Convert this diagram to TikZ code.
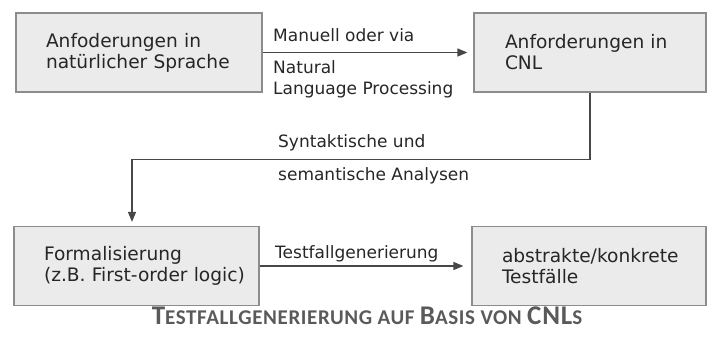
\documentclass[tikz,border=0pt]{standalone}
\usepackage{fontspec}
\setmainfont{DejaVu Sans}
\newfontfamily\capfont[LetterSpace=3]{Carlito}
\usetikzlibrary{arrows.meta}

\definecolor{boxfill}{HTML}{EBEBEB}
\definecolor{boxline}{HTML}{8C8C8C}
\definecolor{ink}{HTML}{262626}
\definecolor{capgray}{HTML}{5A5A5A}

% fake small caps for the caption
\newcommand{\bigc}[1]{{\fontsize{27}{30}\selectfont #1}}
\newcommand{\smc}[1]{{\fontsize{21}{30}\selectfont #1}}

\tikzset{
  stage/.style={draw=boxline, fill=boxfill, line width=1.2pt, text=ink,
    align=left, inner ysep=0pt, minimum height=79pt,
    font=\fontsize{18.6}{21}\selectfont},
  flow/.style={draw=ink!85, line width=1.3pt, shorten >=6pt,
    -{Triangle[length=10pt,width=8pt]}},
  lbl/.style={text=ink, anchor=base west, inner sep=0pt,
    font=\fontsize{17}{21}\selectfont}
}

\begin{document}
\begin{tikzpicture}[x=1pt, y=-1pt]
  \useasboundingbox (0,0) rectangle (707,343);

  % the four stages
  \node[stage, text width=186pt, inner xsep=30pt] (natreq) at (139,52.5)
    {Anfoderungen in\\natürlicher Sprache};
  \node[stage, text width=170pt, inner xsep=31pt] (cnlreq) at (590,52.5)
    {Anforderungen in\\CNL};
  \node[stage, text width=185pt, inner xsep=30pt] (formal) at (136.5,266)
    {Formalisierung\\\mbox{(z.B. First-order logic)}};
  \node[stage, text width=174pt, inner xsep=30pt] (tcases) at (589,266)
    {\mbox{abstrakte/konkrete}\\Testfälle};

  % connectors
  \draw[flow] (natreq) -- (cnlreq);
  \draw[flow, shorten >=4pt] (cnlreq.south) -- ++(0,67)
    -| ([xshift=-4.5pt]formal.north);
  \draw[flow, shorten >=8pt] (formal) -- (tcases);

  % labels
  \node[lbl] (manual) at (273,41) {Manuell oder via};
  \node[lbl] (nlp1) at (273,73) {Natural};
  \node[lbl] (nlp2) at (273,94) {Language Processing};
  \node[lbl] (ana1) at (278,147) {Syntaktische und};
  \node[lbl] (ana2) at (278,180) {semantische Analysen};
  \node[lbl] (gen) at (275,258) {Testfallgenerierung};

  % caption
  \node[anchor=base, inner sep=0pt, text=capgray, font=\capfont\bfseries]
    (caption) at (367,324)
    {\bigc{T}\smc{ESTFALLGENERIERUNG AUF }\bigc{B}\smc{ASIS VON }\bigc{CNL}\smc{S}};
\end{tikzpicture}
\end{document}
